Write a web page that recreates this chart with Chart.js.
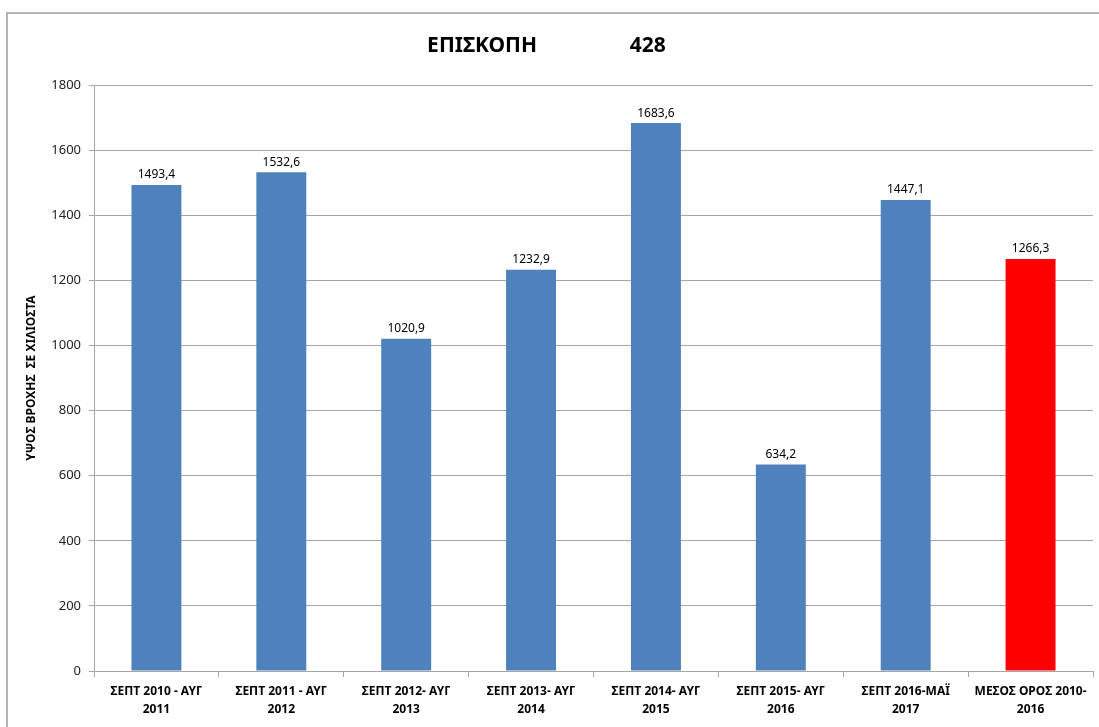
<!DOCTYPE html>
<html>
<head>
<meta charset="utf-8">
<script src="https://cdn.jsdelivr.net/npm/chart.js@4"></script>
<style>
  html, body { margin: 0; padding: 0; background: #fff; overflow: hidden; }
  #frame { position: absolute; left: 6px; top: 12px; width: 1300px; height: 900px; border: 2px solid #b4b4b4; }
  #categoryChart { position: absolute; left: 0; top: 0; }
</style>
</head>
<body>
<div id="frame"></div>
<canvas id="categoryChart" width="1099" height="727"></canvas>
<script>
// Δεδομένα του γραφήματος
const categories = [
    ["ΣΕΠΤ 2010 - ΑΥΓ", "2011"],
    ["ΣΕΠΤ 2011 - ΑΥΓ", "2012"],
    ["ΣΕΠΤ 2012- ΑΥΓ", "2013"],
    ["ΣΕΠΤ 2013- ΑΥΓ", "2014"],
    ["ΣΕΠΤ 2014- ΑΥΓ", "2015"],
    ["ΣΕΠΤ 2015- ΑΥΓ", "2016"],
    ["ΣΕΠΤ 2016-ΜΑΪ", "2017"],
    ["ΜΕΣΟΣ ΟΡΟΣ 2010-", "2016"]
];
const rainfall = [1493.4, 1532.6, 1020.9, 1232.9, 1683.6, 634.2, 1447.1, 1266.3];
const barColors = ["#4f81bd", "#4f81bd", "#4f81bd", "#4f81bd", "#4f81bd", "#4f81bd", "#4f81bd", "#ff0000"];
const yTicks = [0, 200, 400, 600, 800, 1000, 1200, 1400, 1600, 1800];
const titleText = "ΕΠΙΣΚΟΠΗ                 428";
const yTitle = "ΥΨΟΣ ΒΡΟΧΗΣ  ΣΕ ΧΙΛΙΟΣΤΑ";

const fontFamily = "'Noto Sans', 'DejaVu Sans', sans-serif";
const gridColor = "#a6a6a6";

// Plugin para desenhar os valores acima das barras
const valueLabels = {
    id: "valueLabels",
    afterDatasetsDraw(chart) {
        const ctx = chart.ctx;
        const meta = chart.getDatasetMeta(0);
        ctx.save();
        ctx.font = "12px " + fontFamily;
        ctx.fillStyle = "#000";
        ctx.textAlign = "center";
        ctx.textBaseline = "bottom";
        meta.data.forEach((bar, i) => {
            const text = rainfall[i].toFixed(1).replace(".", ",");
            ctx.fillText(text, bar.x, bar.y - 4);
        });
        ctx.restore();
    }
};

const ctx = document.getElementById("categoryChart").getContext("2d");
new Chart(ctx, {
    type: "bar",
    data: {
        labels: categories,
        datasets: [{
            data: rainfall,
            backgroundColor: barColors,
            barPercentage: 0.4,
            categoryPercentage: 1.0
        }]
    },
    options: {
        responsive: false,
        animation: false,
        layout: { padding: { left: 0, right: 6, top: 0, bottom: 0 } },
        plugins: {
            legend: { display: false },
            tooltip: { enabled: false },
            title: {
                display: true,
                text: titleText,
                color: "#000",
                font: { family: fontFamily, size: 21, weight: "bold" },
                padding: { top: 33, bottom: 27 }
            }
        },
        scales: {
            x: {
                offset: true,
                grid: {
                    display: true,
                    offset: true,
                    drawOnChartArea: false,
                    drawTicks: true,
                    tickLength: 6,
                    color: gridColor
                },
                border: { color: gridColor },
                ticks: {
                    color: "#000",
                    maxRotation: 0,
                    autoSkip: false,
                    padding: 6,
                    font: { family: fontFamily, size: 12, weight: "bold", lineHeight: 1.5 }
                },
                afterFit(scale) { scale.height = 56; }
            },
            y: {
                min: 0,
                max: 1800,
                afterBuildTicks(scale) { scale.ticks = yTicks.map(v => ({ value: v })); },
                grid: { color: gridColor, tickLength: 5 },
                border: { color: gridColor },
                ticks: {
                    color: "#222",
                    padding: 8,
                    font: { family: fontFamily, size: 13 },
                    callback: (value) => String(value)
                },
                title: {
                    display: true,
                    text: yTitle,
                    color: "#000",
                    font: { family: fontFamily, size: 12, weight: "bold" },
                    padding: { top: 24, bottom: 0 }
                },
                afterFit(scale) { scale.width = 94; }
            }
        }
    },
    plugins: [valueLabels]
});
</script>
</body>
</html>
